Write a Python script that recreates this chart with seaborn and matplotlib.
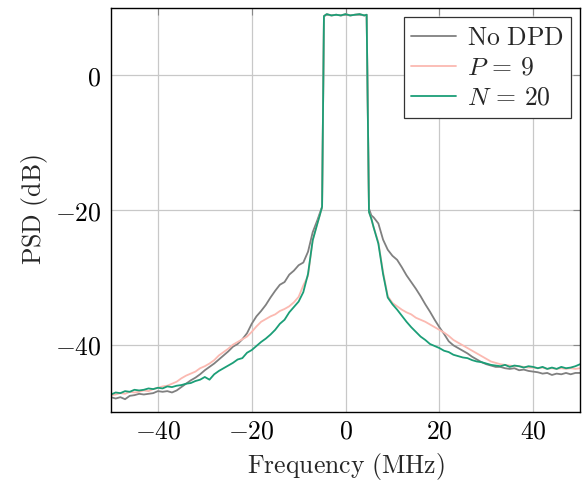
import numpy as np
import pandas as pd
import matplotlib
matplotlib.use('Agg')
import matplotlib.pyplot as plt
from matplotlib.ticker import FuncFormatter
import seaborn as sns

# frequency grid (MHz), shared by all three traces
freq = ([-50, -49, -48, -47, -46, -45, -44, -43, -42, -41, -40, -39, -38, -37, -36,
         -35, -34, -33, -32, -31, -30, -29, -28, -27, -26, -25, -24, -23, -22, -21,
         -20, -19, -18, -17, -16, -15, -14, -13, -12, -11, -10, -9, -8, -7, -6,
         -5.5, -5.0, -4.6, -4, -3, -2, -1, 0, 1, 2, 3, 4, 4.5, 5.0, 5.5,
         6, 7, 8, 9, 10, 11, 12, 13, 14, 15, 16, 17, 18, 19, 20,
         21, 22, 23, 24, 25, 26, 27, 28, 29, 30, 31, 32, 33, 34, 35,
         36, 37, 38, 39, 40, 41, 42, 43, 44, 45, 46, 47, 48, 49, 50])

# PSD values (dB)
no_dpd = ([-47.8, -48.0, -47.8, -48.1, -47.6, -47.5, -47.3, -47.4, -47.3, -47.2, -46.9,
           -47.0, -46.9, -47.1, -46.8, -46.3, -45.8, -45.3, -44.9, -44.4, -43.8, -43.3,
           -42.8, -42.2, -41.6, -41.0, -40.3, -39.9, -39.2, -38.3, -36.9, -35.8, -35.0,
           -34.1, -33.0, -32.0, -31.1, -30.7, -29.6, -29.0, -28.2, -27.8, -26.2, -23.3,
           -21.5, -20.5, -19.6, 8.8, 9.0, 8.9, 9.0, 8.9, 9.0, 8.9, 9.0, 9.0, 8.9, 9.0,
           -19.8, -20.8, -21.1, -22.0, -24.4, -25.9, -26.8, -27.4, -28.5, -29.7, -30.7,
           -31.7, -32.8, -34.0, -35.1, -36.3, -37.4, -38.4, -39.5, -40.1, -40.5, -40.9,
           -41.3, -41.8, -42.2, -42.6, -42.9, -43.1, -43.3, -43.3, -43.5, -43.6, -43.5,
           -43.8, -43.7, -43.9, -44.0, -44.1, -44.3, -44.2, -44.5, -44.3, -44.4, -44.2,
           -44.4, -44.2, -44.2])
p9 = ([-47.5, -47.4, -47.2, -47.3, -47.0, -47.1, -47.0, -46.8, -46.9, -46.6, -46.4,
       -46.2, -46.1, -45.8, -45.5, -45.0, -44.6, -44.3, -44.0, -43.5, -43.2, -42.8,
       -42.3, -41.6, -41.1, -40.6, -40.0, -39.6, -39.2, -38.8, -38.1, -37.3, -36.6,
       -36.2, -35.8, -35.5, -35.0, -34.7, -34.3, -33.7, -32.9, -31.2, -29.8, -24.5,
       -22.0, -20.8, -19.5, 8.8, 9.1, 8.9, 9.0, 8.9, 9.1, 8.9, 9.0, 9.1, 8.9, 9.0,
       -20.3, -21.3, -22.6, -24.8, -29.2, -32.8, -33.8, -34.3, -34.8, -35.2, -35.5,
       -36.0, -36.3, -36.6, -37.0, -37.4, -37.8, -38.2, -38.7, -39.3, -39.7, -40.1,
       -40.5, -40.9, -41.3, -41.7, -42.1, -42.5, -42.7, -42.9, -43.0, -43.1, -43.2,
       -43.2, -43.3, -43.4, -43.4, -43.5, -43.4, -43.6, -43.5, -43.6, -43.5, -43.6,
       -43.5, -43.6, -43.5])
n20 = ([-47.4, -47.1, -47.2, -46.9, -47.0, -46.7, -46.8, -46.7, -46.5, -46.6, -46.4,
        -46.5, -46.2, -46.3, -46.1, -46.0, -45.8, -45.7, -45.4, -45.2, -44.8, -45.2,
        -44.4, -43.9, -43.5, -43.1, -42.7, -42.2, -42.0, -41.2, -40.8, -40.2, -39.6,
        -39.1, -38.5, -37.8, -36.9, -36.3, -35.2, -34.4, -33.6, -32.2, -29.5, -24.5,
        -22.0, -20.8, -19.5, 8.8, 9.1, 8.9, 9.0, 8.9, 9.1, 8.9, 9.0, 9.1, 8.9, 9.0,
        -20.3, -21.3, -22.6, -25.0, -29.5, -33.0, -34.0, -34.8, -35.7, -36.6, -37.4,
        -38.1, -38.8, -39.3, -39.9, -40.2, -40.5, -40.9, -41.1, -41.5, -41.7, -41.9,
        -42.0, -42.3, -42.5, -42.6, -42.8, -43.0, -43.1, -43.2, -43.0, -43.3, -43.1,
        -43.2, -43.4, -43.2, -43.3, -43.5, -43.3, -43.6, -43.4, -43.6, -43.3, -43.5,
        -43.4, -43.2, -42.9])

labels = [r'$\mathrm{No\ DPD}$', r'$P\,=\,9$', r'$N\,=\,20$']
colors = ['#808080', '#fbb9b1', '#1b9e77']

sns.set_theme(style='whitegrid')
plt.rcParams.update({
    'mathtext.fontset': 'cm',
    'font.family': ['DejaVu Serif'],
    'font.size': 18.5,
    'axes.edgecolor': 'black',
    'axes.linewidth': 1.0,
    'grid.color': '#c8c8c8',
    'grid.linewidth': 0.9,
    'xtick.direction': 'in',
    'ytick.direction': 'in',
    'xtick.top': True,
    'ytick.right': True,
})

fig = plt.figure(figsize=(5.82, 4.83), dpi=100)
ax = fig.add_axes([0.1907, 0.147, 0.806, 0.8364])

for vals, lab, col in zip([no_dpd, p9, n20], labels, colors):
    sns.lineplot(x=freq, y=vals, ax=ax, color=col, label=lab, linewidth=1.3)

ax.set_xlim(-50, 50)
ax.set_ylim(-50, 10)
ax.set_xticks([-40, -20, 0, 20, 40])
ax.set_yticks([-40, -20, 0])
cm_fmt = FuncFormatter(lambda v, pos: r'$%d$' % v)
ax.xaxis.set_major_formatter(cm_fmt)
ax.yaxis.set_major_formatter(cm_fmt)
ax.tick_params(axis='both', which='both', length=5, width=0.8, color='#888888',
               labelsize=18.5, labelcolor='black')
ax.tick_params(axis='x', pad=5)
ax.tick_params(axis='y', pad=7)
ax.set_xlabel(r'$\mathrm{Frequency\ (MHz)}$', fontsize=18.5, labelpad=5)
ax.set_ylabel(r'$\mathrm{PSD\ (dB)}$', fontsize=18.5, labelpad=3)
ax.grid(True)

leg = ax.legend(loc='upper right', fontsize=18.5, frameon=True, fancybox=False,
                framealpha=1, edgecolor='#333333', handlelength=1.75,
                handletextpad=0.4, borderaxespad=0.35, borderpad=0.3,
                labelspacing=0.2)
leg.get_frame().set_linewidth(0.9)

fig.savefig('out.png', dpi=100)
